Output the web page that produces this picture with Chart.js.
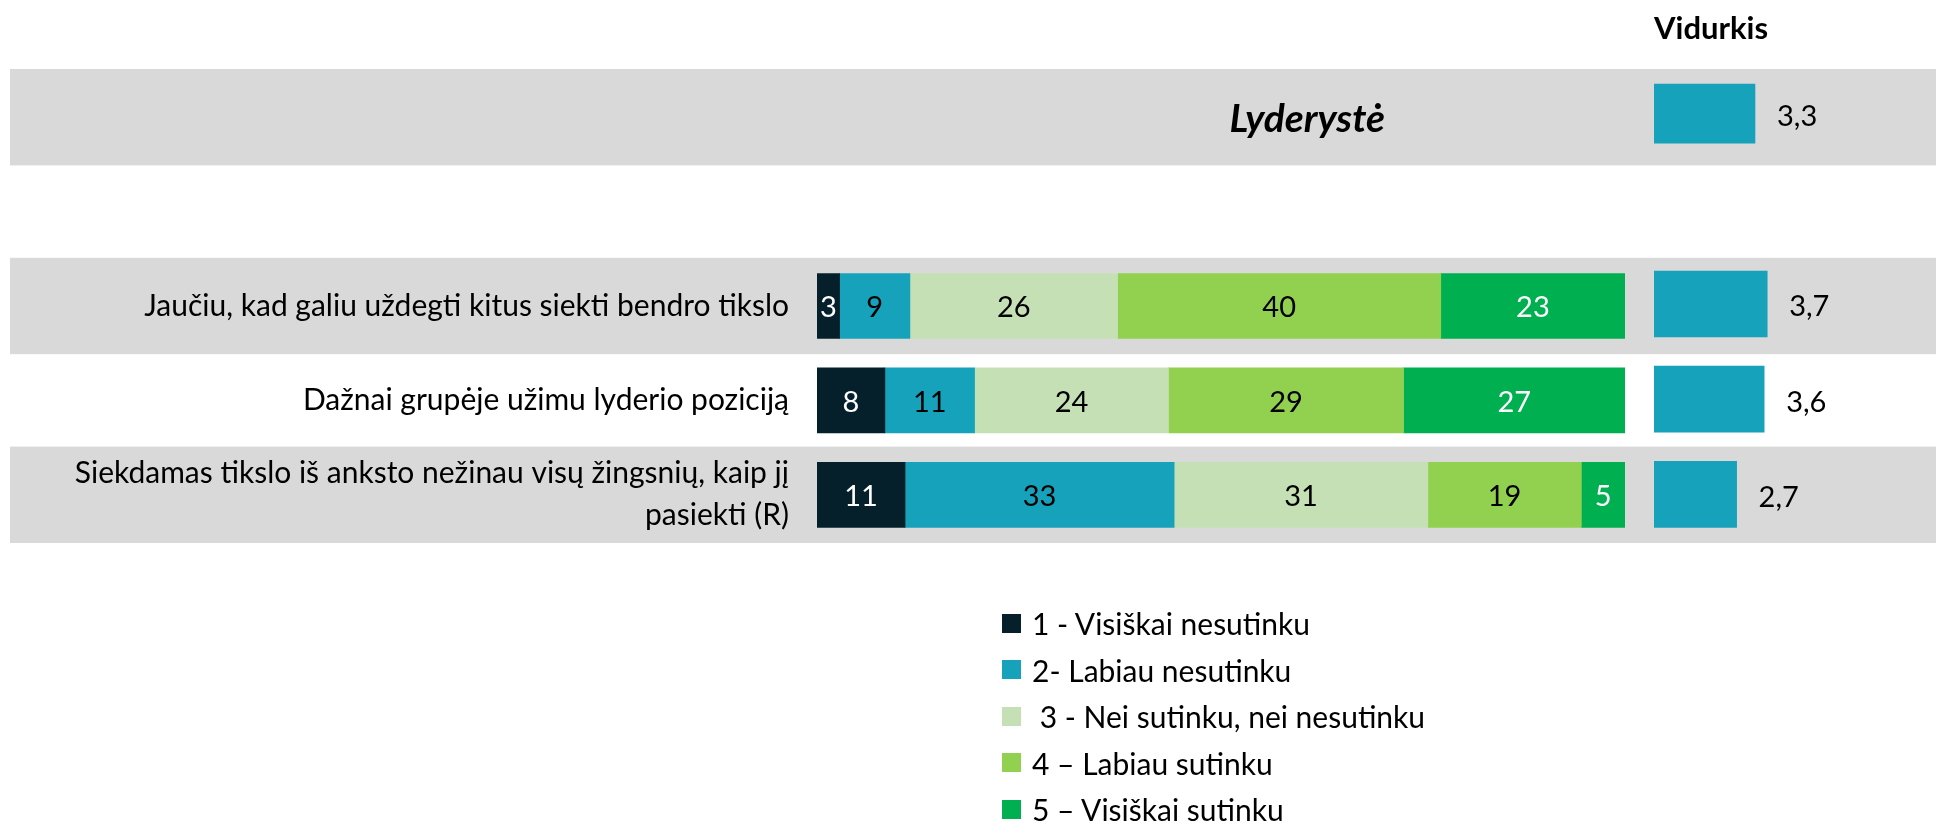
<!DOCTYPE html>
<html>
<head>
<meta charset="utf-8">
<script src="https://cdn.jsdelivr.net/npm/chart.js@4.4.0/dist/chart.umd.min.js"></script>
<style>
  body { margin: 0; background: #fff; }
  #wrap { position: relative; width: 1936px; height: 823px; }
  #wrap canvas { position: absolute; left: 0; top: 0; }
  #legend { position: absolute; left: 1002px; top: 600px; font-family: Lato, sans-serif; font-size: 30px; color: #000; }
  #legend .item { height: 46.5px; display: flex; align-items: center; white-space: pre; }
  #legend .box { width: 19px; height: 19px; margin-right: 11px; flex: none; }
</style>
</head>
<body>
<div id="wrap">
  <canvas id="grafico" width="1936" height="823"></canvas>
  <canvas id="vidurkis" width="1936" height="823"></canvas>
  <div id="legend"></div>
</div>
<script>
// rows: section header, empty spacer, then the three statements
const categories = [
  '',
  '',
  'Jaučiu, kad galiu uždegti kitus siekti bendro tikslo',
  'Dažnai grupėje užimu lyderio poziciją',
  ['Siekdamas tikslo iš anksto nežinau visų žingsnių, kaip jį', 'pasiekti (R)']
];
const sectionTitle = 'Lyderystė';
const avgTitle = 'Vidurkis';
const scaleLabels = [
  '1 - Visiškai nesutinku',
  '2- Labiau nesutinku',
  ' 3 - Nei sutinku, nei nesutinku',
  '4 – Labiau sutinku',
  '5 – Visiškai sutinku'
];
// percentages per answer (labels are rounded)
const answer1 = [null, null, 2.8, 8.4, 10.9];
const answer2 = [null, null, 8.7, 11.1, 33.3];
const answer3 = [null, null, 25.7, 24.0, 31.4];
const answer4 = [null, null, 40.0, 29.1, 19.0];
const answer5 = [null, null, 22.8, 27.4, 5.4];
const averages = [3.3, null, 3.7, 3.6, 2.7];
const shadedRows = [0, 2, 4];

const barColors = ['#05202A', '#16A2BA', '#C5E0B4', '#92D050', '#00B050'];
const textColors = ['#ffffff', '#000000', '#000000', '#000000', '#ffffff'];
const avgColor = '#16A2BA';
const series = [answer1, answer2, answer3, answer4, answer5];

const bandsPlugin = {
  id: 'bands',
  beforeDraw(chart) {
    const ctx = chart.ctx;
    const y = chart.scales.y;
    const step = y.getPixelForValue(1) - y.getPixelForValue(0);
    ctx.save();
    ctx.fillStyle = '#D9D9D9';
    shadedRows.forEach(i => {
      const c = y.getPixelForValue(i);
      ctx.fillRect(10, c - step / 2 - 1, chart.width - 10, step + 2);
    });
    ctx.font = 'italic bold 39px Lato';
    ctx.fillStyle = '#000';
    ctx.textAlign = 'right';
    ctx.textBaseline = 'middle';
    ctx.fillText(sectionTitle, 1385, y.getPixelForValue(0) + 2);
    ctx.restore();
  }
};

const valueLabels = {
  id: 'valueLabels',
  afterDatasetsDraw(chart) {
    const ctx = chart.ctx;
    ctx.save();
    ctx.font = '29px Lato';
    ctx.textAlign = 'center';
    ctx.textBaseline = 'middle';
    chart.data.datasets.forEach((ds, i) => {
      chart.getDatasetMeta(i).data.forEach((bar, j) => {
        const v = ds.data[j];
        if (v == null) return;
        ctx.fillStyle = textColors[i];
        ctx.fillText(Math.round(v), (bar.x + bar.base) / 2, bar.y + 2);
      });
    });
    ctx.restore();
  }
};

const avgLabels = {
  id: 'avgLabels',
  afterDatasetsDraw(chart) {
    const ctx = chart.ctx;
    ctx.save();
    ctx.font = '29px Lato';
    ctx.fillStyle = '#000';
    ctx.textAlign = 'left';
    ctx.textBaseline = 'middle';
    chart.data.datasets.forEach((ds, i) => {
      chart.getDatasetMeta(i).data.forEach((bar, j) => {
        const v = ds.data[j];
        if (v == null) return;
        ctx.fillText(v.toFixed(1).replace('.', ','), bar.x + 22, bar.y + 3);
      });
    });
    ctx.restore();
  }
};

const Grafico = document.getElementById('grafico');
const myChart = new Chart(Grafico, {
  type: 'bar',
  data: {
    labels: categories,
    datasets: series.map((d, i) => ({
      label: scaleLabels[i],
      data: d,
      backgroundColor: barColors[i],
      barThickness: 65
    }))
  },
  options: {
    indexAxis: 'y',
    responsive: false,
    animation: false,
    layout: { padding: { top: 66, bottom: 281, left: 0, right: 311 } },
    scales: {
      x: { stacked: true, min: 0, max: 100, display: false },
      y: {
        stacked: true,
        grid: { display: false, drawTicks: false },
        border: { display: false },
        ticks: { color: '#000', padding: 28, font: { family: 'Lato', size: 30, lineHeight: 1.4 } },
        afterFit: s => { s.width = 817; }
      }
    },
    plugins: { legend: { display: false }, tooltip: { enabled: false } }
  },
  plugins: [bandsPlugin, valueLabels]
});

const avgChart = new Chart(document.getElementById('vidurkis'), {
  type: 'bar',
  data: {
    labels: categories,
    datasets: [
      { data: averages.map((v, i) => i === 0 ? v : null), backgroundColor: avgColor, barThickness: 59, grouped: false },
      { data: averages.map((v, i) => i === 0 ? null : v), backgroundColor: avgColor, barThickness: 66, grouped: false }
    ]
  },
  options: {
    indexAxis: 'y',
    responsive: false,
    animation: false,
    layout: { padding: { top: 0, bottom: 281, left: 1654, right: 129 } },
    scales: {
      x: { min: 0, max: 5, display: false },
      y: { display: false }
    },
    plugins: {
      legend: { display: false },
      tooltip: { enabled: false },
      title: {
        display: true, text: avgTitle, align: 'start', color: '#000',
        font: { family: 'Lato', size: 31, weight: 'bold', lineHeight: 1.2 },
        padding: { top: 10, bottom: 18.8 }
      }
    }
  },
  plugins: [avgLabels]
});

// legend list built from the chart's datasets
const legendBox = document.getElementById('legend');
myChart.data.datasets.forEach(ds => {
  const item = document.createElement('div');
  item.className = 'item';
  const box = document.createElement('span');
  box.className = 'box';
  box.style.background = ds.backgroundColor;
  const txt = document.createElement('span');
  txt.textContent = ds.label;
  item.appendChild(box);
  item.appendChild(txt);
  legendBox.appendChild(item);
});
</script>
</body>
</html>
